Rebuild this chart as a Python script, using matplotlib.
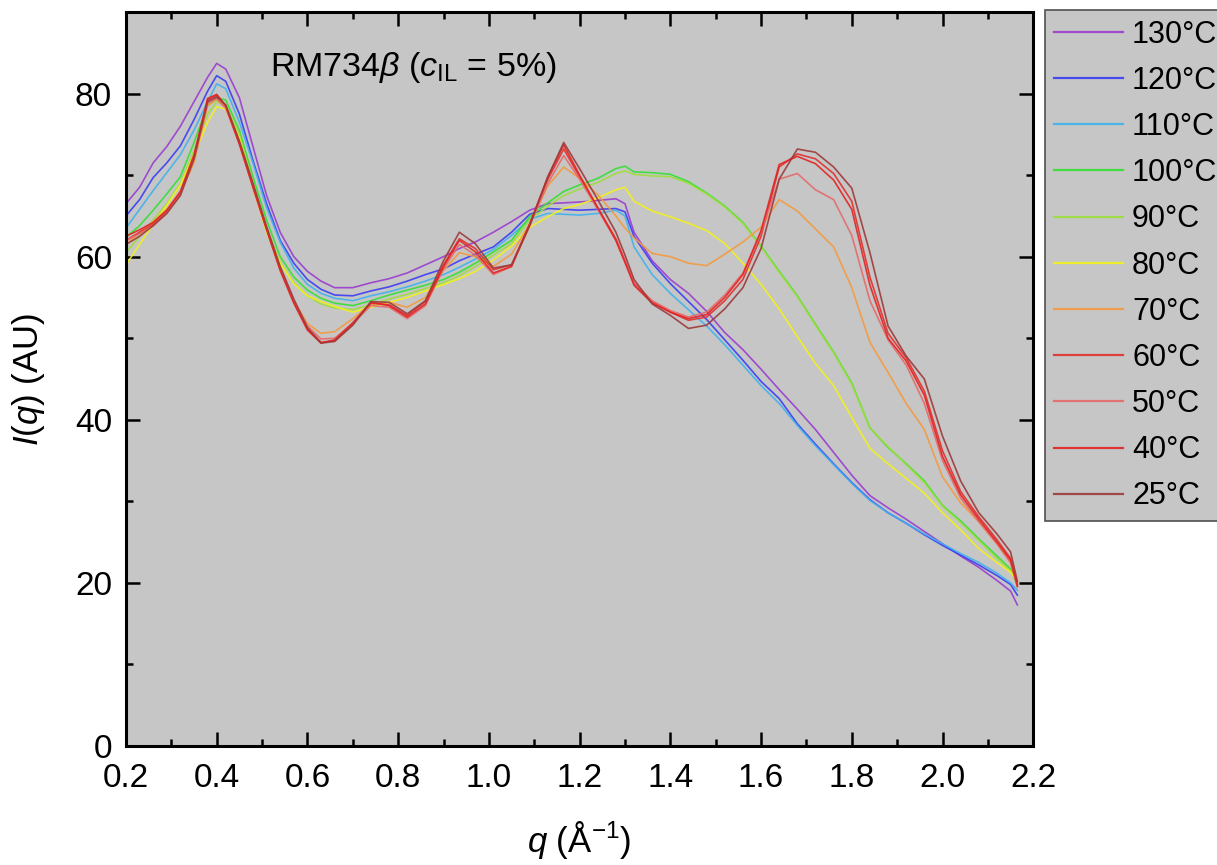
import matplotlib
matplotlib.use("Agg")
import matplotlib.pyplot as plt
from matplotlib.ticker import MultipleLocator

plt.rcParams["font.family"] = ["Liberation Sans", "DejaVu Sans"]
plt.rcParams["mathtext.fontset"] = "custom"
plt.rcParams["mathtext.rm"] = "Liberation Sans"
plt.rcParams["mathtext.it"] = "Liberation Sans:italic"

# scattering vector grid (1/Angstrom)
q = [0.20, 0.23, 0.26, 0.29, 0.32, 0.35, 0.38, 0.40, 0.42, 0.45,
     0.48, 0.51, 0.54, 0.57, 0.60, 0.63, 0.66, 0.70, 0.74, 0.78,
     0.82, 0.86, 0.90, 0.935, 0.97, 1.01, 1.05, 1.09, 1.13, 1.165,
     1.20, 1.24, 1.28, 1.30, 1.32, 1.36, 1.40, 1.44, 1.48, 1.52,
     1.56, 1.60, 1.64, 1.68, 1.72, 1.76, 1.80, 1.84, 1.88, 1.92,
     1.96, 2.00, 2.04, 2.08, 2.12, 2.15, 2.165]

I_130 = [66.5, 68.5, 71.5, 73.5, 76.0, 79.0, 82.0, 83.7, 83.0, 79.5,
         73.5, 67.5, 63.0, 60.0, 58.2, 57.0, 56.2, 56.2, 56.8, 57.3,
         58.0, 59.0, 60.0, 61.0, 61.8, 63.0, 64.3, 65.7, 66.5, 66.6,
         66.7, 66.9, 67.1, 66.5, 63.0, 59.5, 57.2, 55.5, 53.3, 50.7,
         48.6, 46.2, 43.7, 41.3, 38.8, 36.0, 33.2, 30.7, 29.2, 27.8,
         26.3, 24.8, 23.3, 21.9, 20.3, 19.0, 17.3]
I_120 = [65.0, 67.0, 69.7, 71.5, 73.6, 76.8, 80.3, 82.2, 81.5, 77.5,
         71.8, 66.5, 62.0, 59.2, 57.2, 56.0, 55.3, 55.2, 55.8, 56.3,
         57.0, 57.8, 58.5, 59.5, 60.3, 61.2, 63.0, 65.2, 65.9, 65.8,
         65.7, 65.8, 65.9, 65.5, 62.5, 59.2, 56.7, 54.5, 52.3, 49.8,
         47.3, 44.7, 42.6, 39.5, 37.0, 34.6, 32.3, 30.2, 28.6, 27.3,
         25.9, 24.6, 23.4, 22.2, 20.9, 19.8, 18.5]
I_110 = [63.5, 65.8, 68.1, 70.3, 72.5, 75.5, 79.0, 81.2, 80.6, 76.5,
         71.5, 66.0, 61.8, 58.6, 56.6, 55.5, 54.9, 54.6, 55.2, 55.7,
         56.3, 57.0, 57.8, 58.7, 59.7, 60.9, 62.6, 64.6, 65.3, 65.2,
         65.1, 65.3, 65.7, 65.0, 61.2, 57.8, 55.5, 53.5, 51.5, 49.2,
         46.7, 44.2, 42.0, 39.3, 36.8, 34.5, 32.2, 30.1, 28.6, 27.3,
         26.0, 24.8, 23.6, 22.5, 21.2, 20.0, 19.1]
I_100 = [62.4, 63.8, 65.7, 67.7, 69.8, 74.0, 78.5, 79.5, 79.2, 75.5,
         69.8, 64.5, 60.0, 57.5, 55.9, 54.9, 54.3, 54.0, 54.6, 55.3,
         55.9, 56.5, 57.2, 58.1, 59.2, 60.6, 62.0, 64.9, 66.6, 68.0,
         68.8, 69.6, 70.8, 71.1, 70.4, 70.3, 70.1, 69.2, 67.8, 66.2,
         64.2, 61.3, 58.2, 55.2, 51.7, 48.3, 44.5, 39.0, 36.6, 34.6,
         32.5, 29.5, 27.6, 25.4, 23.3, 21.7, 20.0]
I_90 = [60.5, 62.5, 64.5, 66.5, 69.0, 73.0, 77.5, 79.0, 78.6, 75.0,
        69.0, 63.5, 59.3, 56.8, 55.2, 54.2, 53.7, 53.5, 54.1, 54.8,
        55.4, 56.1, 56.8, 57.7, 58.8, 60.2, 61.6, 64.5, 66.2, 67.5,
        68.3, 69.1, 70.2, 70.5, 70.1, 69.9, 69.8, 69.0, 67.7, 66.1,
        64.1, 61.2, 58.1, 55.1, 51.6, 48.2, 44.4, 39.0, 36.7, 34.5,
        32.3, 29.4, 27.4, 25.2, 23.0, 21.5, 19.8]
I_80 = [59.0, 61.5, 64.0, 66.3, 68.8, 72.5, 76.5, 78.4, 78.1, 74.5,
        68.5, 63.0, 59.2, 56.7, 55.2, 54.5, 53.9, 53.2, 53.8, 54.4,
        55.0, 55.8, 56.6, 57.3, 58.2, 59.6, 61.3, 63.6, 64.9, 65.9,
        66.4, 67.2, 68.2, 68.5, 66.8, 65.6, 64.9, 64.1, 63.2, 61.6,
        59.2, 56.6, 53.6, 50.2, 46.9, 44.2, 40.3, 36.5, 34.6, 32.8,
        31.0, 28.6, 26.5, 24.2, 22.5, 21.3, 20.3]
I_70 = [61.5, 63.0, 64.3, 65.8, 67.8, 71.5, 78.5, 79.3, 78.3, 74.0,
        68.5, 63.3, 58.5, 54.6, 51.8, 50.6, 50.8, 52.4, 54.2, 54.4,
        53.8, 55.0, 58.3, 60.5, 60.0, 58.8, 60.3, 64.0, 68.7, 71.0,
        69.6, 67.6, 65.0, 63.5, 62.3, 60.4, 60.0, 59.2, 58.9, 60.3,
        61.8, 63.6, 67.0, 65.6, 63.4, 61.2, 56.2, 49.5, 45.8, 42.0,
        38.8, 33.0, 29.8, 27.5, 24.8, 22.5, 20.0]
I_60 = [62.0, 63.0, 64.0, 65.5, 67.8, 72.2, 79.2, 79.8, 78.5, 74.0,
        68.8, 63.5, 58.5, 54.5, 51.2, 49.5, 49.7, 51.7, 54.3, 54.1,
        52.8, 54.5, 59.0, 62.2, 61.0, 58.4, 59.0, 64.0, 69.5, 73.2,
        69.8, 66.0, 62.2, 59.5, 56.7, 54.5, 53.2, 52.2, 52.6, 54.6,
        57.2, 62.5, 71.0, 72.6, 72.0, 70.2, 66.8, 57.5, 50.6, 47.6,
        43.5, 36.2, 31.2, 28.1, 25.3, 23.0, 19.8]
I_50 = [62.0, 62.8, 63.8, 65.4, 67.6, 72.0, 78.8, 79.4, 78.2, 73.8,
        68.6, 63.4, 58.5, 54.6, 51.5, 49.9, 50.0, 51.8, 54.0, 53.8,
        52.4, 54.0, 58.5, 61.5, 60.2, 57.8, 58.8, 63.8, 69.0, 72.4,
        69.5, 65.8, 62.0, 59.4, 56.8, 54.6, 53.4, 52.6, 53.2, 55.3,
        58.0, 63.0, 69.5, 70.2, 68.2, 67.0, 62.6, 54.6, 49.8, 46.7,
        42.0, 35.0, 30.4, 27.5, 24.8, 22.5, 19.5]
I_40 = [62.5, 63.3, 64.2, 65.7, 68.0, 72.5, 79.4, 79.9, 78.5, 73.8,
        68.5, 63.3, 58.3, 54.3, 51.0, 49.4, 49.8, 51.9, 54.4, 54.0,
        52.6, 54.2, 58.8, 62.0, 60.6, 58.0, 58.8, 64.0, 69.8, 73.7,
        70.0, 66.0, 62.0, 59.3, 56.5, 54.3, 53.2, 52.4, 52.9, 55.0,
        57.8, 63.2, 71.3, 72.3, 71.4, 69.4, 65.8, 56.5, 50.0, 47.2,
        43.0, 35.5, 30.8, 27.8, 25.0, 22.8, 19.6]
I_25 = [61.5, 62.5, 63.8, 65.3, 67.5, 72.0, 79.0, 79.6, 78.6, 74.2,
        69.0, 63.7, 58.8, 54.8, 51.3, 49.4, 49.6, 51.6, 54.5, 54.4,
        53.0, 54.6, 59.5, 63.0, 61.6, 58.6, 59.0, 63.8, 69.8, 74.0,
        70.8, 67.0, 63.0, 60.2, 57.2, 54.2, 52.8, 51.2, 51.6, 53.6,
        56.2, 61.0, 69.5, 73.2, 72.8, 71.0, 68.4, 60.5, 51.5, 47.8,
        45.0, 38.0, 32.5, 28.6, 26.0, 23.8, 20.2]

temps = ["130°C", "120°C", "110°C", "100°C", "90°C", "80°C",
         "70°C", "60°C", "50°C", "40°C", "25°C"]
curves = [I_130, I_120, I_110, I_100, I_90, I_80,
          I_70, I_60, I_50, I_40, I_25]
colors = ["#9a3dd0", "#3c3cf5", "#3fb2ee", "#33e033", "#9ede3a", "#f2f21a",
          "#f39a40", "#e0302e", "#e56a6a", "#e42222", "#9c3a3a"]

fig = plt.figure(figsize=(12.17, 8.65), dpi=100)
ax = fig.add_axes([0.1035, 0.1376, 0.7455, 0.8485])
ax.set_facecolor("#c6c6c6")

for I, col, lab in zip(curves, colors, temps):
    ax.plot(q, I, color=col, lw=1.2, alpha=0.9, label=lab)

ax.set_xlim(0.2, 2.2)
ax.set_ylim(0, 90)
ax.xaxis.set_major_locator(MultipleLocator(0.2))
ax.xaxis.set_minor_locator(MultipleLocator(0.1))
ax.yaxis.set_major_locator(MultipleLocator(20))
ax.yaxis.set_minor_locator(MultipleLocator(10))
ax.set_xticklabels([f"{v:.1f}" for v in ax.get_xticks()])
ax.tick_params(which="both", direction="in", top=True, right=True,
               width=1.8, labelsize=24)
ax.tick_params(axis="x", pad=12)
ax.tick_params(axis="y", pad=10)
ax.tick_params(which="major", length=10)
ax.tick_params(which="minor", length=5)
for sp in ax.spines.values():
    sp.set_linewidth(2.2)

ax.set_xlabel(r"$q$ (Å$^{\mathrm{-1}}$)", fontsize=25, labelpad=18)
ax.set_ylabel(r"$I$($q$) (AU)", fontsize=25, labelpad=20)

ax.text(0.159, 0.925, r"RM734$\beta$ ($c_{\rm IL}$ = 5%)", transform=ax.transAxes,
        fontsize=24.5, ha="left", va="center")

handles, labels = ax.get_legend_handles_labels()
leg = fig.legend(handles, labels, loc="upper left",
                 bbox_to_anchor=(0.8587, 0.988), fontsize=22,
                 frameon=True, fancybox=False, facecolor="#c6c6c6",
                 edgecolor="#505050", framealpha=1, handlelength=2.25,
                 handletextpad=0.3, labelspacing=0.53, borderpad=0.3,
                 borderaxespad=0)
leg.get_frame().set_linewidth(1.2)
for h in leg.legend_handles:
    h.set_linewidth(1.6)

fig.savefig("out.png", dpi=100)
